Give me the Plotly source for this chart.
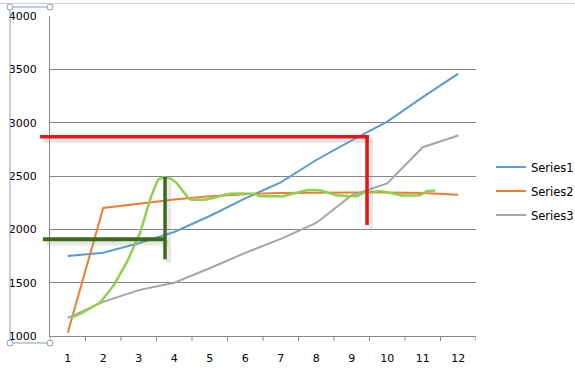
import plotly.graph_objects as go

categories = [1, 2, 3, 4, 5, 6, 7, 8, 9, 10, 11, 12]
series1 = [1750, 1780, 1870, 1975, 2125, 2290, 2440, 2650, 2835, 3010, 3240, 3460]
series2 = [1030, 2200, 2240, 2280, 2310, 2330, 2340, 2345, 2345, 2345, 2340, 2325]
series3 = [1170, 1320, 1430, 1500, 1635, 1780, 1910, 2060, 2320, 2430, 2770, 2880]

# freehand light-green sketch (x in category units, y in value units)
sketch_x = [1.11, 1.3, 1.91, 2.28, 2.66, 3.04, 3.32, 3.55, 3.69, 3.88, 4.05, 4.21, 4.44,
            4.9, 5.57, 6.23, 6.42, 7.07, 7.73, 8.1, 8.58, 9.14, 9.33, 9.8, 10.17,
            10.36, 10.92, 11.11, 11.35]
sketch_y = [1175, 1200, 1315, 1470, 1690, 1970, 2280, 2467, 2485, 2477, 2440, 2374, 2280,
            2280, 2334, 2334, 2311, 2311, 2367, 2367, 2320, 2311, 2343, 2358, 2336,
            2320, 2320, 2358, 2365]

# hand-drawn L markers: (x0, y0, x1, y1) in category/value units
red_h = (0.22, 2868, 9.49, 2868)
red_v = (9.43, 2868, 9.43, 2041)
green_h = (0.30, 1907, 3.74, 1907)
green_v = (3.74, 2491, 3.74, 1719)

names = ["Series1", "Series2", "Series3"]
colors = ["#5b9bd5", "#ed7d31", "#a5a5a5"]

fig = go.Figure()
for i, (nm, vals, col) in enumerate(zip(names, [series1, series2, series3], colors)):
    fig.add_trace(go.Scatter(x=categories, y=vals, mode="lines", name=nm,
                             legendgroup=nm, line=dict(color=col, width=2)))

fig.add_trace(go.Scatter(x=sketch_x, y=sketch_y, mode="lines", showlegend=False,
                         line=dict(color="#8fd14f", width=2.5, shape="spline", smoothing=0.3),
                         hoverinfo="skip"))

def px(xd):
    return (xd - 0.5) / 12.0

shapes = []
def seg(s, color, width, dx=0.0, dy=0.0):
    shapes.append(dict(type="line", xref="paper", yref="y",
                       x0=px(s[0] + dx), y0=s[1] + dy, x1=px(s[2] + dx), y1=s[3] + dy,
                       line=dict(color=color, width=width), layer="above"))

shadow = "rgba(150,150,150,0.22)"
sx, sy = 0.1, -35
for s in (red_h, red_v, green_h, green_v):
    seg(s, shadow, 5, sx, sy)
seg(red_h, "#e8141c", 3.5)
seg(red_v, "#e8141c", 3.5)
seg(green_h, "#3d6b1d", 4)
seg(green_v, "#3d6b1d", 3.5)

# axis selection frame
fx0, fx1, fy0, fy1 = -40 / 426, 0.0, 1 + 9 / 320, -7 / 320
fc = "#8da0b6"
for (a, b, c, d) in [(fx0, fy0, fx1, fy0), (fx0, fy1, fx1, fy1), (fx0, fy0, fx0, fy1)]:
    shapes.append(dict(type="line", xref="paper", yref="paper", x0=a, y0=b, x1=c, y1=d,
                       line=dict(color=fc, width=1)))
for (a, b) in [(fx0, fy0), (fx1, fy0), (fx0, fy1), (fx1, fy1)]:
    shapes.append(dict(type="circle", xref="paper", yref="paper", xsizemode="pixel",
                       ysizemode="pixel", xanchor=a, yanchor=b, x0=-3, x1=3, y0=-3, y1=3,
                       line=dict(color=fc, width=1), fillcolor="white"))
# faint chart border at top
shapes.append(dict(type="line", xref="paper", yref="paper", x0=-50 / 426, x1=525 / 426,
                   y0=1 + 12.5 / 320, y1=1 + 12.5 / 320, line=dict(color="#d0d0d0", width=1)))

fig.update_layout(
    width=575, height=373,
    margin=dict(l=50, r=99, t=16, b=37, autoexpand=False),
    paper_bgcolor="white", plot_bgcolor="white",
    font=dict(family="DejaVu Sans", size=11, color="#000000"),
    shapes=shapes,
    showlegend=True,
    legend=dict(x=1.035, xanchor="left", y=0.453, yanchor="middle",
                font=dict(family="DejaVu Sans", size=11.5),
                traceorder="grouped", tracegroupgap=5, bgcolor="rgba(0,0,0,0)"),
    xaxis=dict(range=[0.5, 12.5], tickmode="array", tickvals=categories,
               ticktext=[str(c) for c in categories], showgrid=False, zeroline=False,
               showline=True, linecolor="#868686", linewidth=1,
               ticks="", ticklabelstandoff=12, automargin=False),
    yaxis=dict(range=[1000, 4000], dtick=500, tick0=1000, showgrid=True,
               gridcolor="#868686", gridwidth=1, zeroline=False, showline=True,
               linecolor="#868686", linewidth=1, ticks="", ticklabelstandoff=10,
               automargin=False),
)

# x-axis tick marks at category boundaries
for k in range(13):
    fig.add_shape(type="line", xref="x", yref="paper", x0=0.5 + k, x1=0.5 + k,
                  y0=0, y1=-5 / 320, line=dict(color="#868686", width=1))

fig.write_html("out.html")
